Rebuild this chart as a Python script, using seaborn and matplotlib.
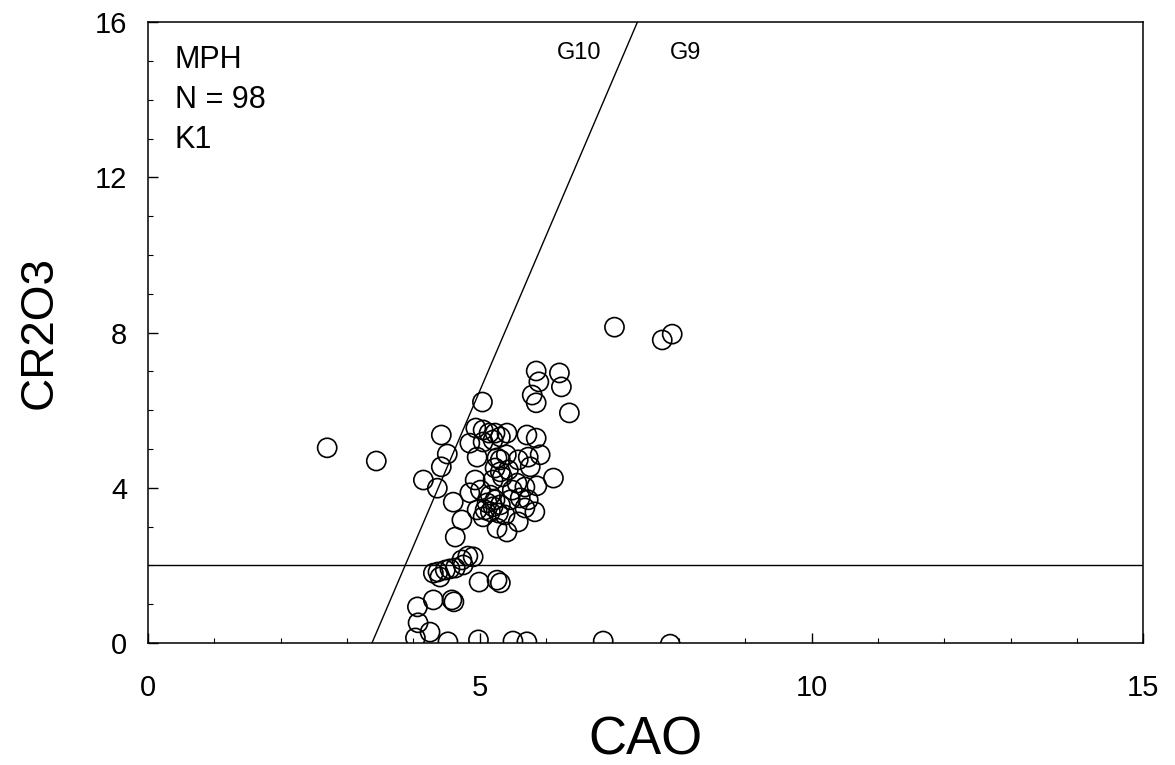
import matplotlib
matplotlib.use('Agg')
import matplotlib.pyplot as plt
import seaborn as sns
import pandas as pd
from matplotlib.ticker import MultipleLocator

# Datos (CaO, Cr2O3) - granates MPH, K1
cao = [2.70, 3.44, 4.42, 4.15, 4.36, 4.42, 4.51, 4.60, 4.73, 4.63,
       5.04, 7.03, 7.75, 7.90, 5.85, 5.89, 6.20, 6.23, 5.79, 5.85,
       6.35, 6.11, 4.30, 4.37, 4.48, 4.55, 4.63, 4.40, 4.75, 4.73,
       4.82, 4.90, 4.99, 5.26, 5.31, 4.06, 4.30, 4.58, 4.61, 4.07,
       4.25, 4.03, 4.52, 4.98, 5.50, 5.71, 6.86, 7.87, 4.94, 5.05,
       5.14, 5.23, 5.31, 5.41, 4.85, 5.05, 5.20, 5.71, 5.85, 4.96,
       5.26, 5.31, 5.73, 5.76, 5.23, 5.31, 5.43, 4.93, 5.20, 5.34,
       5.56, 5.68, 5.86, 5.01, 4.96, 5.11, 5.16, 5.20, 5.28, 5.05,
       5.26, 5.41, 5.58, 5.68, 5.83, 5.61, 5.73, 5.16, 5.23, 5.08,
       5.31, 5.46, 5.38, 5.49, 5.40, 5.58, 4.85, 5.91]
cr2o3 = [5.03, 4.69, 4.54, 4.20, 3.99, 5.36, 4.87, 3.63, 3.17, 2.73,
         6.21, 8.14, 7.81, 7.96, 7.01, 6.73, 6.96, 6.60, 6.39, 6.19,
         5.93, 4.25, 1.80, 1.83, 1.88, 1.91, 1.93, 1.70, 2.01, 2.14,
         2.24, 2.22, 1.57, 1.62, 1.55, 0.93, 1.11, 1.11, 1.06, 0.52,
         0.28, 0.13, 0.03, 0.08, 0.05, 0.03, 0.05, -0.03, 5.54, 5.49,
         5.41, 5.41, 5.31, 5.41, 5.15, 5.18, 5.23, 5.36, 5.28, 4.79,
         4.77, 4.72, 4.79, 4.54, 4.51, 4.41, 4.46, 4.20, 4.20, 4.28,
         4.12, 4.02, 4.05, 3.94, 3.43, 3.61, 3.38, 3.51, 3.35, 3.25,
         2.96, 2.86, 3.12, 3.48, 3.38, 3.74, 3.69, 3.81, 3.69, 3.43,
         3.56, 3.69, 3.30, 3.94, 4.85, 4.72, 3.87, 4.85]

# Limite G10 / G9 y linea horizontal de Cr2O3
limite_cr = [0, 16]
limite_cao = [3.375, 7.375]
linea_cr = 2

df = pd.DataFrame({'CAO': cao, 'CR2O3': cr2o3})

sns.set_style('white')
plt.rcParams['font.family'] = ['Liberation Sans', 'DejaVu Sans']
plt.rcParams['text.color'] = 'black'

fig = plt.figure(figsize=(11.75, 7.65), dpi=100)
ax = fig.add_axes([0.126, 0.1595, 0.847, 0.8115])

sns.scatterplot(data=df, x='CAO', y='CR2O3', ax=ax, marker='o', s=190,
                facecolor='none', edgecolor='black', linewidth=1.2)

ax.plot(limite_cao, limite_cr, color='black', linewidth=1.0)
ax.axhline(linea_cr, color='black', linewidth=1.0)

ax.text(6.5, 15.2, 'G10', fontsize=17, ha='center', va='center', color='black')
ax.text(8.1, 15.2, 'G9', fontsize=17, ha='center', va='center', color='black')
ax.text(0.4, 15.03, 'MPH', fontsize=22, va='center', color='black')
ax.text(0.4, 14.0, 'N = 98', fontsize=22, va='center', color='black')
ax.text(0.4, 12.96, 'K1', fontsize=22, va='center', color='black')

ax.set_xlim(0, 15)
ax.set_ylim(0, 16)
ax.xaxis.set_major_locator(MultipleLocator(5))
ax.xaxis.set_minor_locator(MultipleLocator(1))
ax.yaxis.set_major_locator(MultipleLocator(4))
ax.yaxis.set_minor_locator(MultipleLocator(1))
ax.tick_params(which='both', direction='in', colors='black', labelsize=21,
               bottom=True, left=True)
ax.tick_params(which='major', length=7, width=1.0)
ax.tick_params(axis='x', which='major', pad=22)
ax.tick_params(axis='y', which='major', pad=15)
ax.tick_params(which='minor', length=3.5, width=0.8)
for s in ax.spines.values():
    s.set_color('black')
    s.set_linewidth(1.1)

ax.set_xlabel('CAO', fontsize=38, labelpad=10, color='black')
ax.set_ylabel('CR2O3', fontsize=33, labelpad=24, color='black')

fig.savefig('out.png', dpi=100)
